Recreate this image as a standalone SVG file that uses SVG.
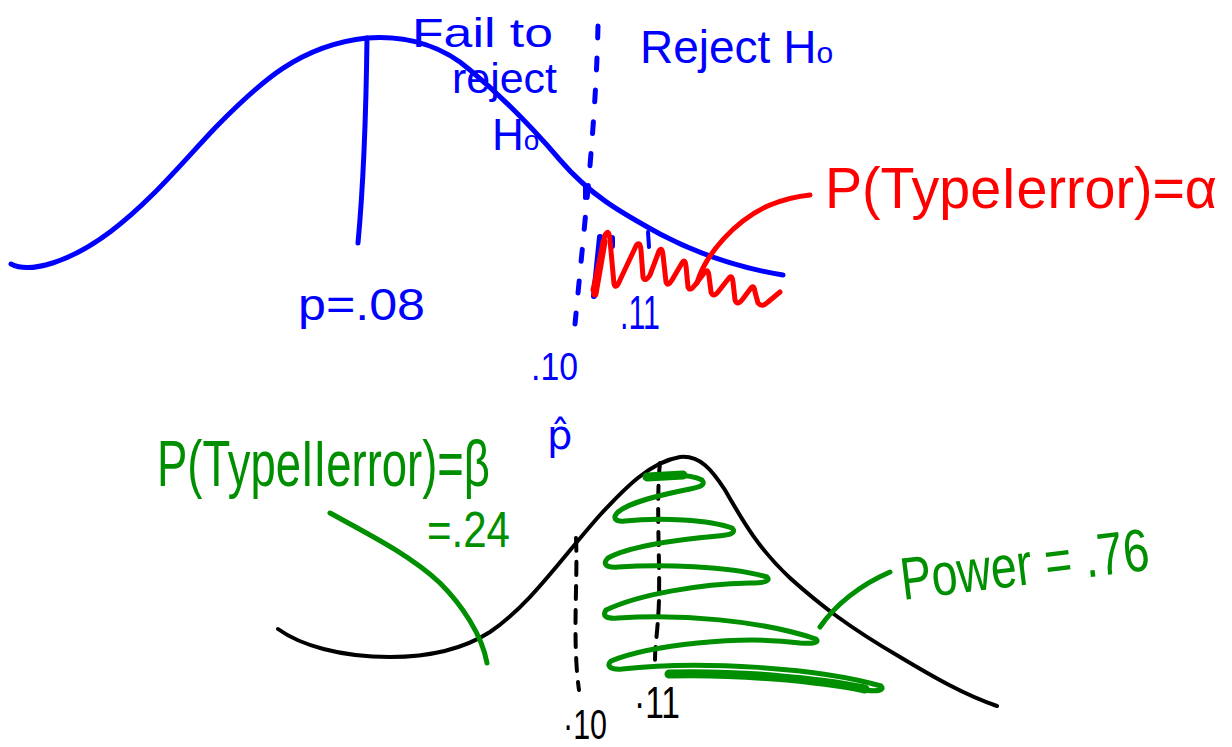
<svg xmlns="http://www.w3.org/2000/svg" width="1232" height="747" viewBox="0 0 1232 747">
<style>
.s{fill:none;stroke-linecap:round;stroke-linejoin:round}
.b{stroke:#0000ff}
.r{stroke:#ff0000}
.g{stroke:#008f00}
.k{stroke:#000}
text{font-family:"Liberation Sans",Arial,sans-serif}
.tb{fill:#0000ff}
.tr{fill:#ff0000}
.tg{fill:#008f00}
.tk{fill:#000}
</style>
<rect width="1232" height="747" fill="#fff"/>
<g id="top-distribution">
<path class="s b" stroke-width="5" d="M11,264 C30,274 70,262 110,232 C150,202 180,165 215,128 C260,82 300,45 367,38 C410,35 445,48 470,70 C500,95 530,125 560,160 C590,195 620,212 660,234 C700,255 740,268 783,275"/>
<path class="s b" stroke-width="5" d="M367,38 C366,120 362,200 358,243"/>
<path class="s b" stroke-width="5" stroke-dasharray="12 20" d="M598,26 C596,120 585,220 575,324"/>
<path class="s b" stroke-width="4" d="M585,185 L585,198 M648,232 L649,247"/>
<path class="s b" stroke-width="6" d="M600,237 L594,296 M612,238 L612,246"/>
</g>
<g id="type1-region">
<path class="s r" stroke-width="5" d="M593,290 L605,235 Q609,228 610,240 L614,284 Q616,290 620,280 L636,246 Q640,240 641,250 L643,277 Q645,283 650,275 L659,251 Q662,246 663,255 L666,282 Q668,287 672,280 L682,263 Q685,258 686,266 L688,287 Q690,292 695,285 L705,272 Q708,268 709,276 L711,292 Q713,298 718,292 L729,278 Q732,274 733,282 L735,300 Q737,306 742,300 L751,288 Q754,284 755,292 L758,303 Q762,308 768,302 L780,292"/>
<path class="s r" stroke-width="7" d="M595,294 L604,242"/>
<path class="s r" stroke-width="5" d="M697,283 C705,255 735,220 770,205 C785,199 800,196 810,195"/>
</g>
<g id="top-labels">
<text class="tb" x="412" y="47" font-size="40" textLength="141" lengthAdjust="spacingAndGlyphs">Fail to</text>
<text class="tb" x="452" y="93" font-size="42" textLength="105" lengthAdjust="spacingAndGlyphs">reject</text>
<text class="tb" x="492" y="150" font-size="44">H<tspan font-size="28">o</tspan></text>
<text class="tb" x="640" y="63" font-size="46">Reject H<tspan font-size="30">o</tspan></text>
<text class="tb" x="298" y="320" font-size="44" textLength="127" lengthAdjust="spacingAndGlyphs">p=.08</text>
<text class="tb" x="620" y="329" font-size="48" textLength="40" lengthAdjust="spacingAndGlyphs">.11</text>
<text class="tb" x="531" y="380" font-size="38" textLength="47" lengthAdjust="spacingAndGlyphs">.10</text>
<text class="tb" x="547" y="449" font-size="40" style="font-family:'DejaVu Sans',sans-serif">p̂</text>
<text class="tr" x="825" y="208" font-size="58" textLength="392" lengthAdjust="spacingAndGlyphs">P(TypeIerror)=α</text>
</g>
<g id="bottom-distribution">
<path class="s k" stroke-width="4" d="M278,629 C300,645 340,657 390,657 C430,657 465,648 490,632 C530,605 560,560 600,515 C625,488 650,462 680,457 C700,455 712,470 725,490 C745,525 760,550 790,578 C820,605 850,628 900,657 C935,678 965,695 997,706"/>
<path class="s k" stroke-width="4" stroke-dasharray="13 11" d="M576,538 C578,580 572,640 579,690"/>
<path class="s k" stroke-width="4" stroke-dasharray="13 10" d="M660,463 C656,500 660,560 659,600 C658,630 655,645 655,660"/>
</g>
<g id="power-region">
<path class="s g" stroke-width="5" d="M647,477 C665,475 690,474 702,480 C706,485 700,487 690,489 C660,495 630,502 618,512 C612,518 615,522 625,521 C660,517 710,520 732,528 C737,533 730,535 718,536 C670,540 625,548 608,558 C602,564 606,568 618,567 C660,564 730,566 767,577 C771,581 765,583 750,583 C700,584 640,594 606,610 C602,616 606,619 618,618 C680,614 760,620 816,639 C820,643 812,644 800,643 C740,635 650,645 611,661 C606,666 610,670 622,669 C700,660 820,668 881,686 C885,690 878,692 865,690"/>
<path class="s g" stroke-width="9" d="M647,477 L683,475 M865,689 C820,680 740,672 669,674"/>
<path class="s g" stroke-width="5" d="M820,627 C835,605 860,585 890,572"/>
<path class="s g" stroke-width="5" d="M330,513 C370,535 410,555 440,583 C462,605 482,635 487,663"/>
</g>
<g id="bottom-labels">
<text class="tg" x="157" y="486" font-size="64" textLength="333" lengthAdjust="spacingAndGlyphs">P(TypeIIerror)=β</text>
<text class="tg" x="427" y="547" font-size="50" textLength="83" lengthAdjust="spacingAndGlyphs">=.24</text>
<text class="tg" x="903" y="600" font-size="60" textLength="250" lengthAdjust="spacingAndGlyphs" transform="rotate(-7 903 600)">Power = .76</text>
<text class="tk" x="563" y="739" font-size="42" textLength="44" lengthAdjust="spacingAndGlyphs">·10</text>
<text class="tk" x="634" y="718" font-size="44" textLength="46" lengthAdjust="spacingAndGlyphs">·11</text>
</g>
</svg>
